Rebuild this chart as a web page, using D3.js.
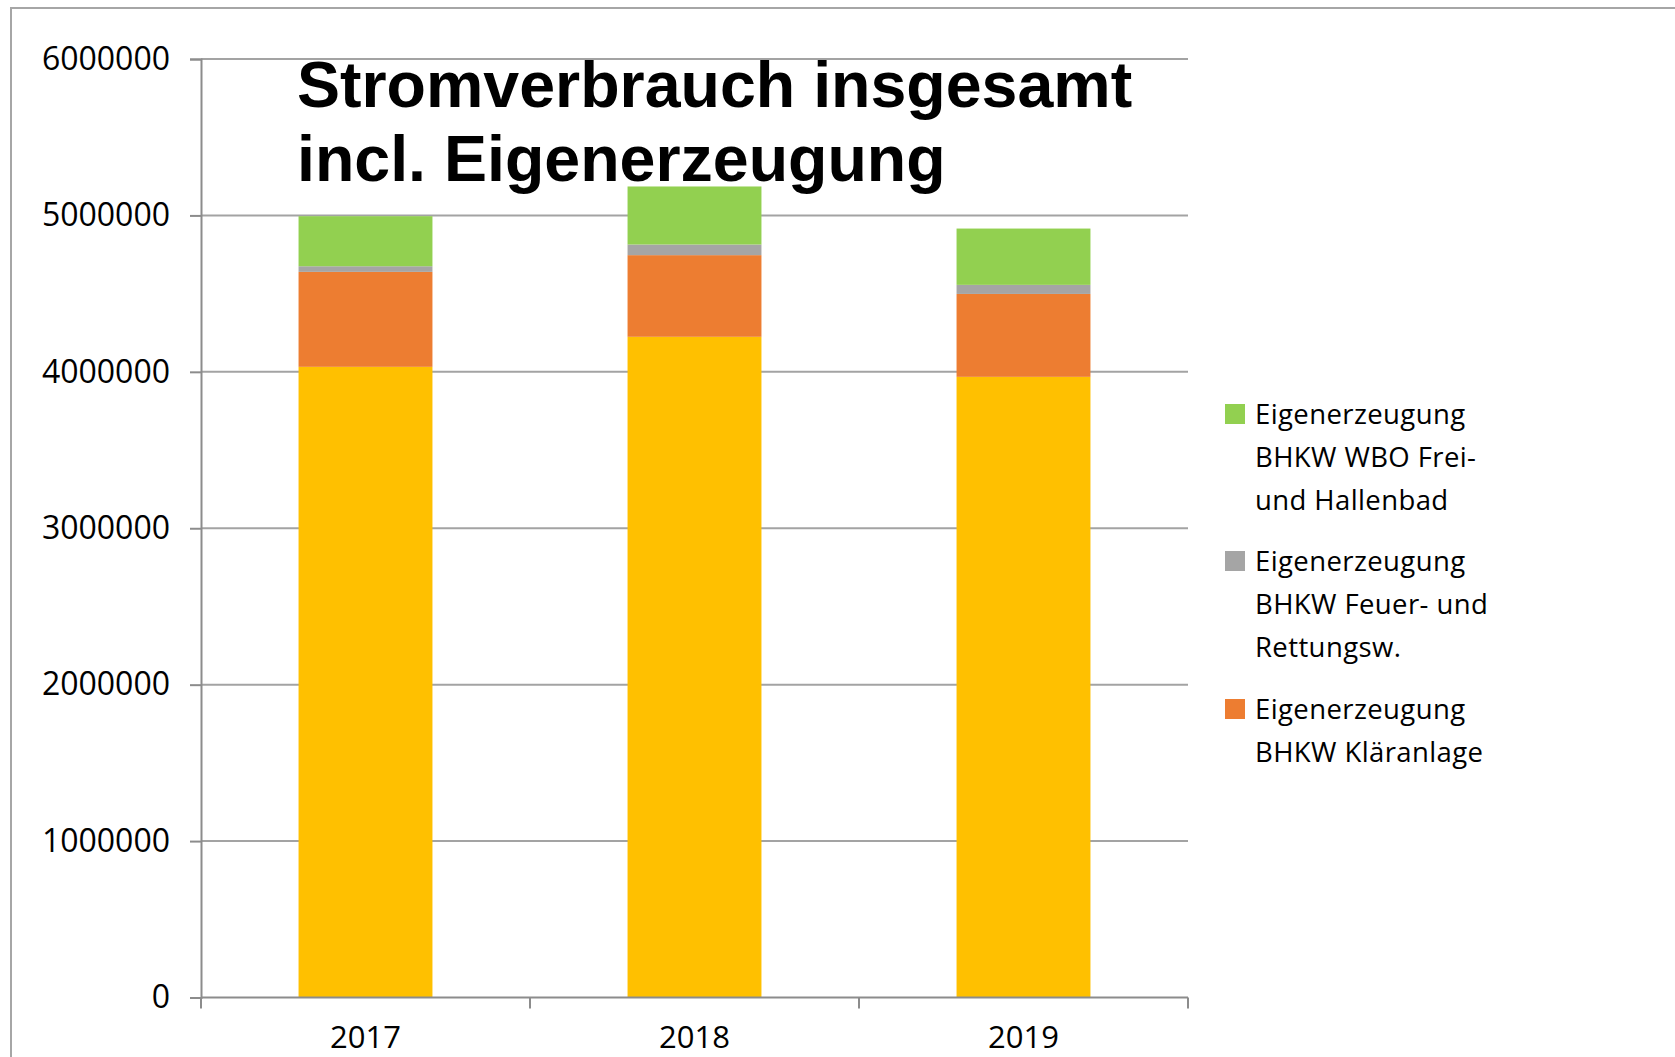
<!DOCTYPE html>
<html>
<head>
<meta charset="utf-8">
<script src="https://cdn.jsdelivr.net/npm/d3@7"></script>
<style>
  html, body { margin: 0; padding: 0; background: #fff; overflow: hidden; }
  #graphicContainer { width: 1675px; height: 1057px; }
</style>
</head>
<body>
<div id="graphicContainer"></div>
<script>
const years = ['2017', '2018', '2019'];
const seriesKeys = ['bezug', 'klaer', 'feuer', 'wbo'];
const bezugValues = [4032000, 4224000, 3968000];
const klaerValues = [607000, 522000, 530000];
const feuerValues = [36000, 68000, 58000];
const wboValues = [320000, 371000, 360000];
const yTicks = [0, 1000000, 2000000, 3000000, 4000000, 5000000, 6000000];
const titleLines = ['Stromverbrauch insgesamt', 'incl. Eigenerzeugung'];
const legendEntries = [
  { key: 'wbo', lines: ['Eigenerzeugung', 'BHKW WBO Frei-', 'und Hallenbad'] },
  { key: 'feuer', lines: ['Eigenerzeugung', 'BHKW Feuer- und', 'Rettungsw.'] },
  { key: 'klaer', lines: ['Eigenerzeugung', 'BHKW Kläranlage'] },
];

const colors = { bezug: '#FFC000', klaer: '#ED7D31', feuer: '#A5A5A5', wbo: '#92D050' };

const container = d3.select('#graphicContainer');
const Width = 1675, Height = 1057;
const Margin = { t: 59, r: 487, b: 60, l: 201 };

const rows = years.map((y, i) => ({
  year: y,
  bezug: bezugValues[i],
  klaer: klaerValues[i],
  feuer: feuerValues[i],
  wbo: wboValues[i],
}));
const stacked = d3.stack().keys(seriesKeys)(rows);

const svg = container.append('svg')
  .attr('width', Width)
  .attr('height', Height);

// outer frame of the chart area
svg.append('path')
  .attr('d', `M11,${Height} V8 H${Width}`)
  .attr('fill', 'none')
  .attr('stroke', '#a6a6a6')
  .attr('stroke-width', 2);

const x = d3.scaleBand()
  .domain(years)
  .range([Margin.l, 1188])
  .paddingInner(0.593)
  .paddingOuter(0.2965);

const y = d3.scaleLinear()
  .domain([0, 6000000])
  .range([997.5, Margin.t]);

// gridlines
svg.append('g')
  .selectAll('line')
  .data(yTicks.filter(d => d > 0))
  .join('line')
  .attr('x1', Margin.l)
  .attr('x2', 1188)
  .attr('y1', d => y(d))
  .attr('y2', d => y(d))
  .attr('stroke', '#a3a3a3')
  .attr('stroke-width', 2);

// bars
svg.append('g')
  .selectAll('g')
  .data(stacked)
  .join('g')
  .attr('fill', d => colors[d.key])
  .selectAll('rect')
  .data(d => d)
  .join('rect')
  .attr('x', d => x(d.data.year))
  .attr('width', x.bandwidth())
  .attr('y', d => y(d[1]))
  .attr('height', d => y(d[0]) - y(d[1]));

// y axis
const yAxis = svg.append('g')
  .attr('transform', `translate(${Margin.l},0)`)
  .call(d3.axisLeft(y).tickValues(yTicks).tickSize(11).tickPadding(20).tickFormat(d3.format('d')));
yAxis.select('.domain').attr('stroke', '#8c8c8c').attr('stroke-width', 2);
yAxis.selectAll('.tick line').attr('stroke', '#8c8c8c').attr('stroke-width', 2);
yAxis.selectAll('.tick text')
  .attr('fill', '#000')
  .style('font-family', '"Open Sans", sans-serif')
  .style('font-size', '32px');

// x axis
const xEdges = d3.scaleLinear().domain([0, 3]).range([Margin.l, 1188]);
const xAxisG = svg.append('g');
xAxisG.append('line')
  .attr('x1', Margin.l).attr('x2', 1188)
  .attr('y1', y(0)).attr('y2', y(0))
  .attr('stroke', '#8c8c8c').attr('stroke-width', 2);
xAxisG.selectAll('.xtick')
  .data([0, 1, 2, 3])
  .join('line')
  .attr('class', 'xtick')
  .attr('x1', d => xEdges(d)).attr('x2', d => xEdges(d))
  .attr('y1', y(0)).attr('y2', y(0) + 11)
  .attr('stroke', '#8c8c8c').attr('stroke-width', 2);
xAxisG.selectAll('.xlabel')
  .data(years)
  .join('text')
  .attr('class', 'xlabel')
  .attr('x', d => x(d) + x.bandwidth() / 2)
  .attr('y', 1048)
  .attr('text-anchor', 'middle')
  .style('font-family', '"Open Sans", sans-serif')
  .style('font-size', '31px')
  .text(d => d);

// title
svg.append('g')
  .selectAll('text')
  .data(titleLines)
  .join('text')
  .attr('x', 297)
  .attr('y', (d, i) => 107 + i * 74)
  .style('font-family', '"Liberation Sans", Arial, sans-serif')
  .style('font-weight', 'bold')
  .style('font-size', '64.5px')
  .attr('fill', '#000')
  .text(d => d);

// legend
const legendTops = [404, 551, 699];
const legend = svg.append('g')
  .selectAll('g')
  .data(legendEntries)
  .join('g')
  .attr('transform', (d, i) => `translate(1225,${legendTops[i]})`);
legend.append('rect')
  .attr('width', 20)
  .attr('height', 20)
  .attr('fill', d => colors[d.key]);
legend.each(function(d) {
  d3.select(this).selectAll('text')
    .data(d.lines)
    .join('text')
    .attr('x', 30)
    .attr('y', (t, i) => 20 + i * 43)
    .style('font-family', '"Open Sans", sans-serif')
    .style('font-size', '27.5px')
    .style('letter-spacing', '0.4px')
    .attr('fill', '#000')
    .text(t => t);
});
</script>
</body>
</html>
